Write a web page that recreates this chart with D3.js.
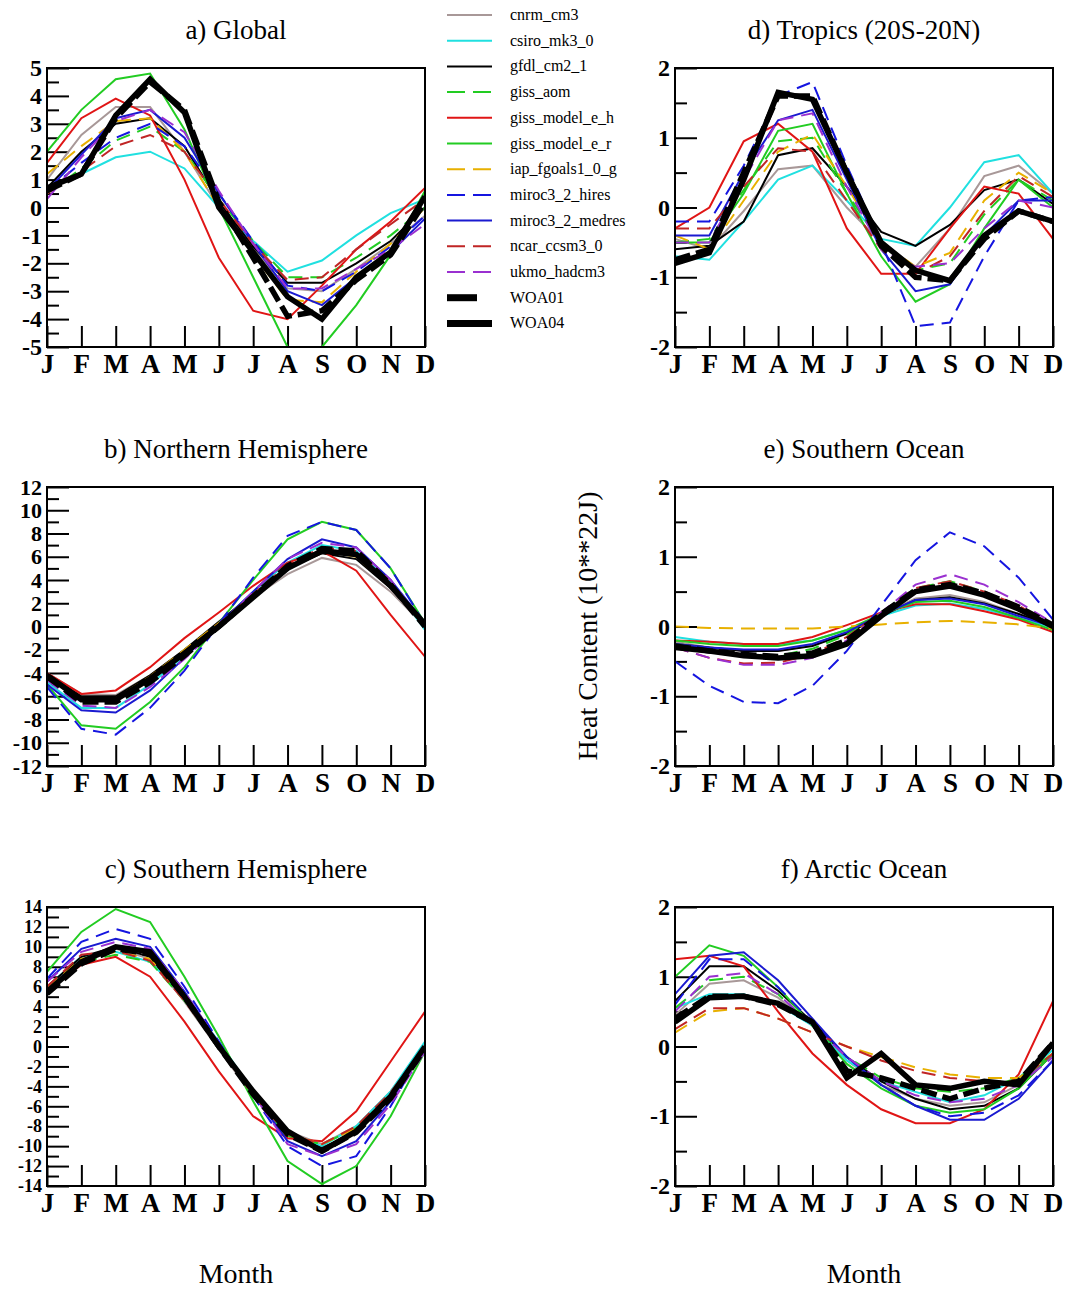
<!DOCTYPE html>
<html>
<head>
<meta charset="utf-8">
<script src="https://cdn.jsdelivr.net/npm/d3@7"></script>
<style>
  body { margin: 0; background: #fff; }
  svg text { font-family: 'Liberation Serif', 'DejaVu Serif', serif; fill: #000; }
</style>
</head>
<body>
<svg id="chart" width="1066" height="1289"></svg>
<script>
const months = ['J', 'F', 'M', 'A', 'M', 'J', 'J', 'A', 'S', 'O', 'N', 'D'];

const seriesNames = ['cnrm_cm3', 'csiro_mk3_0', 'gfdl_cm2_1', 'giss_aom', 'giss_model_e_h',
  'giss_model_e_r', 'iap_fgoals1_0_g', 'miroc3_2_hires', 'miroc3_2_medres', 'ncar_ccsm3_0',
  'ukmo_hadcm3', 'WOA01', 'WOA04'];

// rows follow seriesNames order, 12 months each
const globalVals = [
  [1.0, 2.6, 3.6, 3.6, 2.0, 0.0, -1.5, -2.9, -3.0, -2.2, -1.3, -0.3],
  [0.7, 1.2, 1.8, 2.0, 1.4, 0.0, -1.2, -2.3, -1.9, -1.0, -0.2, 0.3],
  [0.7, 2.0, 3.0, 3.2, 2.2, 0.2, -1.4, -2.7, -2.7, -2.0, -1.2, 0.0],
  [0.5, 1.4, 2.4, 2.9, 2.0, 0.3, -1.2, -2.5, -2.5, -1.8, -1.0, 0.0],
  [1.6, 3.2, 3.9, 3.3, 1.0, -1.8, -3.7, -4.0, -2.8, -1.5, -0.5, 0.7],
  [2.0, 3.5, 4.6, 4.8, 2.8, 0.0, -2.5, -5.0, -5.0, -3.5, -1.7, 0.6],
  [1.2, 2.2, 3.1, 3.2, 2.0, 0.0, -1.7, -3.3, -3.4, -2.3, -1.3, 0.0],
  [0.6, 1.6, 2.5, 3.0, 2.2, 0.5, -1.2, -2.8, -3.0, -2.3, -1.4, -0.3],
  [0.6, 1.9, 3.2, 3.5, 2.5, 0.5, -1.3, -3.0, -3.5, -2.5, -1.6, -0.4],
  [0.5, 1.3, 2.2, 2.6, 2.0, 0.3, -1.3, -2.6, -2.5, -1.5, -0.6, 0.3],
  [0.3, 1.8, 3.1, 3.5, 2.7, 0.6, -1.3, -2.9, -2.9, -2.2, -1.5, -0.6],
  [0.6, 1.2, 3.2, 4.5, 3.5, 0.2, -1.8, -3.9, -3.7, -2.6, -1.7, 0.2],
  [0.7, 1.2, 3.3, 4.6, 3.4, 0.0, -1.6, -3.2, -4.0, -2.5, -1.6, 0.4]
];

const tropicsVals = [
  [-0.45, -0.6, -0.05, 0.55, 0.6, 0.0, -0.5, -0.85, -0.3, 0.45, 0.6, 0.2],
  [-0.7, -0.75, -0.2, 0.4, 0.6, 0.1, -0.45, -0.55, 0.0, 0.65, 0.75, 0.2],
  [-0.6, -0.55, -0.2, 0.75, 0.85, 0.3, -0.35, -0.55, -0.25, 0.25, 0.4, 0.05],
  [-0.5, -0.45, 0.25, 0.95, 1.0, 0.2, -0.5, -0.9, -0.8, -0.1, 0.4, 0.1],
  [-0.3, 0.0, 0.95, 1.2, 0.8, -0.3, -0.95, -0.95, -0.3, 0.3, 0.2, -0.45],
  [-0.5, -0.5, 0.2, 1.1, 1.2, 0.2, -0.7, -1.35, -1.1, -0.3, 0.4, 0.0],
  [-0.4, -0.6, 0.1, 0.8, 1.05, 0.3, -0.5, -0.85, -0.65, 0.1, 0.5, 0.2],
  [-0.2, -0.2, 0.6, 1.6, 1.8, 0.6, -0.5, -1.7, -1.65, -0.7, 0.1, 0.15],
  [-0.4, -0.4, 0.5, 1.25, 1.4, 0.4, -0.6, -1.2, -1.1, -0.4, 0.1, 0.1],
  [-0.3, -0.3, 0.3, 0.85, 0.8, 0.1, -0.6, -0.95, -0.7, -0.05, 0.45, 0.15],
  [-0.5, -0.5, 0.4, 1.25, 1.35, 0.3, -0.6, -0.85, -0.8, -0.3, 0.1, 0.0],
  [-0.75, -0.6, 0.5, 1.6, 1.6, 0.5, -0.55, -1.0, -1.05, -0.45, -0.05, -0.2],
  [-0.8, -0.65, 0.4, 1.65, 1.55, 0.5, -0.5, -0.9, -1.05, -0.4, -0.05, -0.2]
];

const northVals = [
  [-4.0, -5.8, -5.9, -4.2, -2.0, 0.3, 2.5, 4.5, 5.9, 5.3, 3.0, 0.0],
  [-4.8, -7.0, -7.0, -5.0, -2.5, 0.2, 3.0, 5.5, 7.0, 6.5, 3.8, -0.3],
  [-4.1, -6.0, -6.0, -4.2, -2.0, 0.4, 2.8, 5.0, 6.3, 5.8, 3.3, 0.0],
  [-4.5, -6.5, -6.5, -4.6, -2.3, 0.2, 2.8, 5.2, 6.6, 6.2, 3.6, 0.1],
  [-4.0, -5.8, -5.5, -3.5, -1.0, 1.2, 3.5, 5.5, 6.5, 4.8, 1.0, -2.6],
  [-5.0, -8.5, -8.8, -6.5, -3.5, 0.3, 4.0, 7.5, 9.0, 8.3, 5.0, 0.3],
  [-4.3, -6.2, -6.2, -4.3, -2.0, 0.3, 2.8, 5.2, 6.5, 6.0, 3.4, 0.0],
  [-5.2, -8.8, -9.3, -7.0, -3.8, 0.2, 4.2, 7.8, 9.0, 8.3, 5.0, 0.2],
  [-5.0, -7.2, -7.4, -5.5, -2.7, 0.2, 3.0, 5.8, 7.5, 6.8, 4.0, 0.3],
  [-4.4, -6.3, -6.2, -4.4, -2.2, 0.2, 2.8, 5.3, 6.8, 6.5, 3.8, 0.1],
  [-4.6, -6.8, -7.0, -5.2, -2.8, 0.0, 3.0, 5.8, 7.2, 6.8, 4.0, 0.0],
  [-4.3, -6.5, -6.5, -4.8, -2.5, 0.0, 2.6, 5.2, 6.7, 6.5, 3.6, 0.0],
  [-4.2, -6.3, -6.3, -4.5, -2.3, 0.0, 2.5, 5.0, 6.5, 6.2, 3.5, 0.2]
];

const southOceanVals = [
  [-0.22, -0.3, -0.35, -0.35, -0.27, -0.08, 0.17, 0.4, 0.45, 0.35, 0.18, 0.0],
  [-0.15, -0.22, -0.25, -0.25, -0.2, -0.05, 0.15, 0.3, 0.33, 0.25, 0.12, -0.02],
  [-0.25, -0.3, -0.35, -0.35, -0.28, -0.1, 0.15, 0.38, 0.42, 0.33, 0.18, 0.0],
  [-0.25, -0.35, -0.42, -0.42, -0.32, -0.12, 0.2, 0.55, 0.65, 0.5, 0.28, 0.0],
  [-0.2, -0.22, -0.25, -0.25, -0.15, 0.02, 0.2, 0.32, 0.32, 0.22, 0.1, -0.08],
  [-0.2, -0.25, -0.28, -0.28, -0.2, -0.05, 0.18, 0.35, 0.37, 0.28, 0.12, -0.05],
  [0.0, -0.02, -0.03, -0.03, -0.03, 0.0, 0.03, 0.06, 0.08, 0.06, 0.03, -0.03],
  [-0.5, -0.85, -1.08, -1.1, -0.85, -0.35, 0.3, 0.95, 1.35, 1.15, 0.7, 0.1],
  [-0.25, -0.3, -0.33, -0.33, -0.25, -0.08, 0.17, 0.38, 0.4, 0.32, 0.15, 0.0],
  [-0.3, -0.45, -0.53, -0.52, -0.4, -0.15, 0.2, 0.55, 0.65, 0.5, 0.3, 0.0],
  [-0.3, -0.45, -0.55, -0.55, -0.45, -0.2, 0.2, 0.6, 0.75, 0.6, 0.35, 0.05],
  [-0.28, -0.35, -0.4, -0.43, -0.38, -0.2, 0.18, 0.52, 0.6, 0.48, 0.28, 0.02],
  [-0.3, -0.35, -0.42, -0.45, -0.42, -0.25, 0.15, 0.5, 0.58, 0.45, 0.25, 0.0]
];

const southVals = [
  [5.8, 8.8, 9.8, 8.8, 4.5, -0.3, -5.0, -8.5, -9.8, -8.0, -4.5, 0.0],
  [6.0, 9.0, 9.5, 8.5, 5.0, 0.5, -4.5, -8.8, -10.0, -8.0, -4.5, 0.5],
  [6.0, 9.0, 10.0, 9.0, 4.8, 0.0, -4.8, -8.8, -10.2, -8.5, -5.0, -0.2],
  [6.0, 8.5, 9.2, 8.5, 4.6, 0.0, -4.8, -9.0, -9.8, -8.2, -4.8, 0.0],
  [5.5, 8.2, 9.0, 7.0, 2.5, -2.5, -7.0, -9.2, -9.5, -6.5, -1.5, 3.5],
  [7.5, 11.5, 13.8, 12.5, 7.0, 1.0, -5.5, -11.5, -13.8, -12.0, -7.0, -0.5],
  [5.8, 8.8, 9.5, 8.8, 4.8, 0.0, -4.8, -8.8, -9.8, -8.2, -4.8, 0.0],
  [6.8, 10.5, 11.8, 10.8, 6.0, 0.5, -5.0, -10.0, -12.0, -11.0, -6.0, 0.0],
  [6.5, 9.8, 10.8, 10.0, 5.5, 0.3, -4.7, -9.5, -11.0, -9.5, -5.5, 0.0],
  [6.0, 9.2, 9.6, 8.6, 4.6, -0.1, -4.9, -8.8, -9.8, -8.0, -4.6, 0.0],
  [6.5, 9.5, 10.5, 9.8, 5.5, 0.3, -4.8, -9.8, -11.0, -9.8, -5.8, -0.5],
  [5.3, 8.3, 9.8, 9.3, 5.0, 0.0, -4.8, -8.8, -10.5, -8.6, -5.2, -0.2],
  [5.5, 8.5, 10.0, 9.5, 5.0, 0.0, -4.5, -8.5, -10.5, -8.5, -5.0, 0.0]
];

const arcticVals = [
  [0.45, 0.9, 0.95, 0.7, 0.3, -0.2, -0.55, -0.75, -0.85, -0.8, -0.55, -0.1],
  [0.55, 0.75, 0.75, 0.6, 0.3, -0.2, -0.5, -0.65, -0.8, -0.7, -0.45, -0.05],
  [0.65, 1.15, 1.15, 0.8, 0.35, -0.15, -0.5, -0.75, -0.9, -0.85, -0.6, -0.1],
  [0.55, 0.95, 1.0, 0.75, 0.3, -0.15, -0.45, -0.6, -0.65, -0.6, -0.45, -0.1],
  [1.25, 1.3, 1.15, 0.5, -0.1, -0.55, -0.9, -1.1, -1.1, -0.9, -0.4, 0.65],
  [1.0, 1.45, 1.3, 0.85, 0.3, -0.25, -0.6, -0.85, -0.95, -0.9, -0.6, -0.1],
  [0.2, 0.5, 0.55, 0.4, 0.2, 0.0, -0.15, -0.3, -0.4, -0.45, -0.45, -0.1],
  [0.6, 1.25, 1.25, 0.85, 0.35, -0.15, -0.55, -0.85, -1.0, -0.95, -0.7, -0.2],
  [0.75, 1.3, 1.35, 0.95, 0.4, -0.15, -0.55, -0.85, -1.05, -1.05, -0.75, -0.2],
  [0.25, 0.55, 0.55, 0.4, 0.2, 0.0, -0.2, -0.35, -0.45, -0.5, -0.5, -0.1],
  [0.5, 1.0, 1.05, 0.75, 0.3, -0.15, -0.5, -0.7, -0.8, -0.75, -0.55, -0.15],
  [0.4, 0.72, 0.72, 0.6, 0.35, -0.35, -0.45, -0.6, -0.75, -0.6, -0.5, 0.05],
  [0.35, 0.7, 0.72, 0.62, 0.35, -0.45, -0.1, -0.55, -0.6, -0.5, -0.55, 0.05]
];

// styles per series
const seriesColors = ['#a89898', '#20e0e0', '#000000', '#22cc22', '#e01515', '#22cc22',
  '#e8b000', '#1515e0', '#1a1ad0', '#c02525', '#9a30d0', '#000000', '#000000'];
const seriesDash = [null, null, null, '14,8', null, null, '14,8', '14,8', null, '14,8', '14,8', '16,6', null];
const seriesWidth = [2, 2, 2, 2, 2, 2, 2, 2, 2, 2, 2, 5.5, 5.5];

const panels = [
  { title: 'a) Global', vals: globalVals, domain: [-5, 5], major: 1, minor: 0.5, x: 47, y: 68, fs: 24 },
  { title: 'd) Tropics (20S-20N)', vals: tropicsVals, domain: [-2, 2], major: 1, minor: 0.5, x: 675, y: 68, fs: 24 },
  { title: 'b) Northern Hemisphere', vals: northVals, domain: [-12, 12], major: 2, minor: 1, x: 47, y: 487, fs: 22 },
  { title: 'e) Southern Ocean', vals: southOceanVals, domain: [-2, 2], major: 1, minor: 0.5, x: 675, y: 487, fs: 24 },
  { title: 'c) Southern Hemisphere', vals: southVals, domain: [-14, 14], major: 2, minor: 1, x: 47, y: 907, fs: 18 },
  { title: 'f) Arctic Ocean', vals: arcticVals, domain: [-2, 2], major: 1, minor: 0.5, x: 675, y: 907, fs: 24 }
];

const width = 378;
const height = 279;
const svg = d3.select('#chart');

panels.forEach((p, pi) => {
  const g = svg.append('g').attr('transform', `translate(${p.x}, ${p.y})`);

  const xScale = d3.scaleLinear().domain([0, 11]).range([0, width]);
  const yScale = d3.scaleLinear().domain(p.domain).range([height, 0]);

  g.append('clipPath')
    .attr('id', `clip${pi}`)
    .append('rect')
    .attr('width', width)
    .attr('height', height);

  // x axis, ticks pointing inward
  const xAxis = g.append('g')
    .attr('transform', `translate(0, ${height})`)
    .call(d3.axisBottom(xScale)
      .tickValues(d3.range(12))
      .tickFormat(i => months[i])
      .tickSize(-21)
      .tickPadding(7));
  xAxis.select('.domain').remove();
  xAxis.selectAll('line').attr('stroke', '#000').attr('stroke-width', 2);
  xAxis.selectAll('text')
    .style('font-family', "'Liberation Serif', serif")
    .style('font-weight', 'bold')
    .style('font-size', '27px');

  // y axis: major ticks labelled, minor ticks shorter
  const n = Math.round((p.domain[1] - p.domain[0]) / p.minor);
  const yTicks = d3.range(n + 1).map(i => p.domain[0] + i * p.minor);
  const isMajor = v => Math.abs(v / p.major - Math.round(v / p.major)) < 1e-6;
  const yAxis = g.append('g')
    .call(d3.axisLeft(yScale)
      .tickValues(yTicks)
      .tickFormat(v => (isMajor(v) ? String(v) : ''))
      .tickSize(0)
      .tickPadding(5));
  yAxis.select('.domain').remove();
  yAxis.selectAll('.tick line')
    .attr('x2', v => (isMajor(v) ? 22 : 12))
    .attr('stroke', '#000')
    .attr('stroke-width', 2);
  yAxis.selectAll('text')
    .style('font-family', "'Liberation Serif', serif")
    .style('font-weight', 'bold')
    .style('font-size', `${p.fs}px`);

  const line = d3.line()
    .x((d, i) => xScale(i))
    .y(d => yScale(d));

  g.append('g')
    .attr('clip-path', `url(#clip${pi})`)
    .selectAll('path')
    .data(p.vals)
    .enter()
    .append('path')
    .attr('d', line)
    .attr('fill', 'none')
    .attr('stroke', (d, i) => seriesColors[i])
    .attr('stroke-width', (d, i) => seriesWidth[i])
    .attr('stroke-dasharray', (d, i) => seriesDash[i])
    .attr('stroke-linejoin', 'miter');

  g.append('rect')
    .attr('width', width)
    .attr('height', height)
    .attr('fill', 'none')
    .attr('stroke', '#000')
    .attr('stroke-width', 2);

  g.append('text')
    .attr('x', width / 2)
    .attr('y', -29)
    .attr('text-anchor', 'middle')
    .style('font-size', '27px')
    .text(p.title);
});

// axis titles
[236, 864].forEach((cx) => {
  svg.append('text')
    .attr('x', cx)
    .attr('y', 1283)
    .attr('text-anchor', 'middle')
    .style('font-size', '28px')
    .text('Month');
});

svg.append('text')
  .attr('transform', 'translate(597, 626) rotate(-90)')
  .attr('text-anchor', 'middle')
  .style('font-size', '28px')
  .text('Heat Content (10**22J)');

// legend between the top panels
const legend = svg.append('g').attr('transform', 'translate(447, 15)');
const rowStep = 25.7;
seriesNames.forEach((name, i) => {
  const row = legend.append('g').attr('transform', `translate(0, ${i * rowStep})`);
  const isWoa01 = name === 'WOA01';
  row.append('line')
    .attr('x1', 0)
    .attr('x2', isWoa01 ? 30 : 45)
    .attr('y1', 0)
    .attr('y2', 0)
    .attr('stroke', seriesColors[i])
    .attr('stroke-width', seriesWidth[i] > 3 ? 7 : 2)
    .attr('stroke-dasharray', isWoa01 ? null : (seriesDash[i] ? '18,8' : null));
  row.append('text')
    .attr('x', 63)
    .attr('y', 5)
    .style('font-size', '16px')
    .text(name);
});
</script>
</body>
</html>
